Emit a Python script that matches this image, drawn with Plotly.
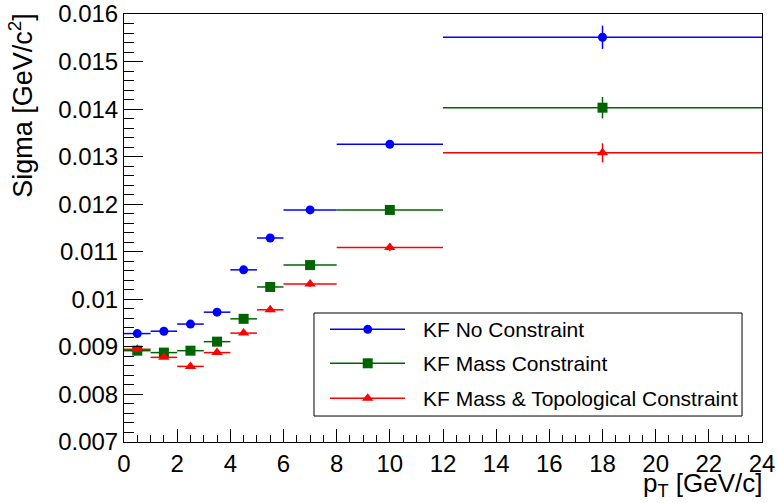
import plotly.graph_objects as go

# ---- data ----
pt_centers = [0.5, 1.5, 2.5, 3.5, 4.5, 5.5, 7, 10, 18]
pt_halfwidths = [0.5, 0.5, 0.5, 0.5, 0.5, 0.5, 1, 2, 6]

sigma_no_constraint = [0.00928, 0.00933, 0.00948, 0.00973, 0.01062, 0.01129, 0.01188, 0.01326, 0.01551]
err_no_constraint = [0.00003, 0.00003, 0.00003, 0.00004, 0.00004, 0.00005, 0.00006, 0.00008, 0.000245]

sigma_mass = [0.00892, 0.00888, 0.00892, 0.00911, 0.00959, 0.01026, 0.01072, 0.01188, 0.01403]
err_mass = [0.00003, 0.00003, 0.00003, 0.00004, 0.00004, 0.00005, 0.00006, 0.00008, 0.000225]

sigma_mass_topo = [0.00895, 0.00878, 0.00859, 0.00888, 0.00929, 0.00978, 0.01032, 0.01109, 0.01308]
err_mass_topo = [0.00003, 0.00003, 0.00003, 0.00004, 0.00004, 0.00005, 0.00006, 0.00008, 0.0002]

series_names = ["KF No Constraint", "KF Mass Constraint", "KF Mass & Topological Constraint"]
y_tickvals = [0.007, 0.008, 0.009, 0.010, 0.011, 0.012, 0.013, 0.014, 0.015, 0.016]
y_ticktext = ["0.007", "0.008", "0.009", "0.01", "0.011", "0.012", "0.013", "0.014", "0.015", "0.016"]
x_tickvals = [0, 2, 4, 6, 8, 10, 12, 14, 16, 18, 20, 22, 24]

FONT = "Liberation Sans, Arial, Helvetica, sans-serif"
colors = ["#0000ff", "#006400", "#ff0000"]
symbols = ["circle", "square", "triangle-up"]
sizes = [9, 10, 10]

fig = go.Figure()
for name, ys, es, col, sym, sz in zip(
    series_names,
    [sigma_no_constraint, sigma_mass, sigma_mass_topo],
    [err_no_constraint, err_mass, err_mass_topo],
    colors, symbols, sizes,
):
    fig.add_trace(go.Scatter(
        x=pt_centers, y=ys, mode="markers", name=name, showlegend=False,
        marker=dict(color=col, symbol=sym, size=sz, line=dict(width=0)),
        error_x=dict(type="data", array=pt_halfwidths, color=col, thickness=1.5, width=0),
        error_y=dict(type="data", array=es, color=col, thickness=1.5, width=0),
    ))

# ---- custom legend (ROOT TLegend style) ----
leg_x0, leg_x1, leg_y0, leg_y1 = 0.2978, 0.9687, 0.0607, 0.3014
row_y = [0.2633, 0.1839, 0.1021]
line_x0, line_x1, mark_x, text_x = 0.3229, 0.4404, 0.382, 0.465

shapes = [dict(type="rect", xref="paper", yref="paper", x0=leg_x0, x1=leg_x1, y0=leg_y0, y1=leg_y1,
               line=dict(color="black", width=1), fillcolor="white", layer="below")]
annotations = []
for name, col, sym, sz, ry in zip(series_names, colors, symbols, sizes, row_y):
    fig.add_trace(go.Scatter(
        x=[line_x0, mark_x, line_x1], y=[ry, ry, ry], xaxis="x2", yaxis="y2", mode="lines+markers",
        showlegend=False, hoverinfo="skip", opacity=1,
        line=dict(color=col, width=1.5),
        marker=dict(color=col, symbol=sym, size=[0, sz, 0], opacity=1, line=dict(width=0)),
    ))
    annotations.append(dict(xref="paper", yref="paper", x=text_x, y=ry, text=name, showarrow=False,
                            xanchor="left", yanchor="middle", font=dict(family=FONT, size=21, color="black")))

annotations.append(dict(xref="paper", yref="paper", x=-0.162, y=1.008, text="Sigma [GeV/c<sup>2</sup>]",
                        textangle=-90, showarrow=False, xanchor="center", yanchor="top",
                        font=dict(family=FONT, size=27, color="black")))
annotations.append(dict(xref="paper", yref="paper", x=1.004, y=-0.056, text="p<sub>T</sub> [GeV/c]",
                        showarrow=False, xanchor="right", yanchor="top",
                        font=dict(family=FONT, size=26, color="black")))

fig.update_layout(
    width=777, height=503,
    margin=dict(l=124, r=15, t=14, b=61, autoexpand=False),
    paper_bgcolor="white", plot_bgcolor="white",
    font=dict(family=FONT, size=24, color="black"),
    shapes=shapes, annotations=annotations,
    xaxis=dict(range=[0, 24], tickvals=x_tickvals, ticks="inside", ticklen=13, tickcolor="black",
               showline=True, linecolor="black", linewidth=1, mirror=True, showgrid=False, zeroline=False,
               automargin=False,
               minor=dict(ticks="inside", ticklen=7, dtick=0.5, tickcolor="black", showgrid=False),
               tickfont=dict(family=FONT, size=24)),
    yaxis=dict(range=[0.007, 0.016], tickvals=y_tickvals, ticktext=y_ticktext, ticks="inside", ticklen=19,
               tickcolor="black", showline=True, linecolor="black", linewidth=1, mirror=True,
               showgrid=False, zeroline=False, automargin=False,
               minor=dict(ticks="inside", ticklen=10, dtick=0.0002, tickcolor="black", showgrid=False),
               tickfont=dict(family=FONT, size=24)),
    xaxis2=dict(range=[0, 1], overlaying="x", visible=False, fixedrange=True),
    yaxis2=dict(range=[0, 1], overlaying="y", visible=False, fixedrange=True),
)

fig.write_html("out.html")
